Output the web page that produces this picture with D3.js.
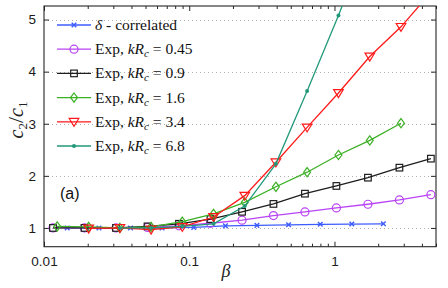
<!DOCTYPE html>
<html><head><meta charset="utf-8">
<script src="https://cdn.jsdelivr.net/npm/d3@7/dist/d3.min.js"></script>
<style>body{margin:0;background:#fff}svg{display:block}</style>
</head><body>
<svg id="c" width="448" height="288"></svg>
<script>
// ---- data ----
const betaDelta = [0.01445, 0.0239, 0.0394, 0.0650, 0.1074, 0.1774, 0.2925, 0.483, 0.798, 1.316, 2.17];
const valDelta  = [1.0, 1.0, 1.0, 1.0, 1.01, 1.04, 1.05, 1.06, 1.07, 1.075, 1.08];

const betaA = [0.01153, 0.0190, 0.0313, 0.0516, 0.0850, 0.140, 0.231, 0.380, 0.626, 1.031, 1.70, 2.80, 4.61];
const val045 = [1.0, 1.0, 1.0, 1.01, 1.04, 1.09, 1.15, 1.237, 1.307, 1.384, 1.455, 1.537, 1.639];
const val09  = [1.0, 1.0, 1.0, 1.03, 1.08, 1.17, 1.31, 1.461, 1.658, 1.806, 1.965, 2.157, 2.33];

const beta16 = [0.01233, 0.0203, 0.0333, 0.0546, 0.0896, 0.147, 0.241, 0.395, 0.648, 1.065, 1.75, 2.87];
const val16  = [1.03, 1.02, 1.0, 1.02, 1.12, 1.27, 1.49, 1.79, 2.07, 2.40, 2.68, 3.01];

const beta34 = [0.0203, 0.0333, 0.0546, 0.0896, 0.147, 0.241, 0.395, 0.648, 1.065, 1.75, 2.87, 4.71];
const val34  = [0.99, 1.0, 0.97, 1.02, 1.21, 1.62, 2.26, 2.93, 3.59, 4.29, 4.86, 5.55];

const beta68 = [0.0333, 0.0546, 0.0896, 0.147, 0.241, 0.395, 0.648, 1.065, 1.75];
const val68  = [1.0, 1.0, 1.03, 1.08, 1.42, 2.23, 3.63, 5.08, 6.6];

const xMajorTicks = [0.01, 0.1, 1];
const xTickLabels = ["0.01", "0.1", "1"];
const yTicks = [1, 2, 3, 4, 5];

const seriesNames = ["δ", "0.45", "0.9", "1.6", "3.4", "6.8"];

// ---- setup ----
const W = 448, H = 288;
const L = 44, R = 436, T = 6, B = 246.7;
const svg = d3.select("#c");
const x = d3.scaleLog().domain([0.01, 5]).range([L, R]);
const y = d3.scaleLinear().domain([0.64, 5.26]).range([B, T]);

svg.append("defs").append("clipPath").attr("id", "clip")
  .append("rect").attr("x", L).attr("y", T).attr("width", R - L).attr("height", B - T);

// grid
svg.append("g").selectAll("line").data(yTicks).join("line")
  .attr("x1", L).attr("x2", R)
  .attr("y1", d => Math.round(y(d)) + 0.5).attr("y2", d => Math.round(y(d)) + 0.5)
  .attr("stroke", "#b0b0b0").attr("stroke-width", 1).attr("stroke-dasharray", "1,3");

// minor ticks
const minor = [];
[0.01, 0.1, 1].forEach(dec => { for (let k = 2; k <= 9; k++) { const v = dec * k; if (v <= 5) minor.push(v); } });

const tickFont = "'Liberation Sans', Arial, sans-serif";
function styleAxis(g) {
  g.select(".domain").remove();
  g.selectAll(".tick line").attr("stroke", "#262626");
  g.selectAll("text").attr("font-family", tickFont).attr("font-size", 13.5).attr("fill", "#1a1a1a");
}
svg.append("g").attr("transform", `translate(0,${B})`)
  .call(d3.axisBottom(x).tickValues(xMajorTicks).tickFormat((d, i) => xTickLabels[i]).tickSize(-5).tickPadding(10))
  .call(styleAxis);
svg.append("g").attr("transform", `translate(0,${B})`)
  .call(d3.axisBottom(x).tickValues(minor).tickFormat("").tickSize(-3)).call(styleAxis);
svg.append("g").attr("transform", `translate(0,${T})`)
  .call(d3.axisTop(x).tickValues(xMajorTicks).tickFormat("").tickSize(-5)).call(styleAxis);
svg.append("g").attr("transform", `translate(0,${T})`)
  .call(d3.axisTop(x).tickValues(minor).tickFormat("").tickSize(-3)).call(styleAxis);
svg.append("g").attr("transform", `translate(${L},0)`)
  .call(d3.axisLeft(y).tickValues(yTicks).tickFormat(d3.format("d")).tickSize(-5).tickPadding(8))
  .call(styleAxis);
svg.append("g").attr("transform", `translate(${R},0)`)
  .call(d3.axisRight(y).tickValues(yTicks).tickFormat("").tickSize(-5)).call(styleAxis);

// frame
svg.append("rect").attr("x", L).attr("y", T).attr("width", R - L).attr("height", B - T)
  .attr("fill", "none").attr("stroke", "#262626").attr("stroke-width", 1.1);

// ---- series ----
const series = [
  {b: betaDelta, v: valDelta, color: "#3d5cff", marker: "x"},
  {b: betaA, v: val045, color: "#b943f5", marker: "circle"},
  {b: betaA, v: val09, color: "#1e1e1e", marker: "square"},
  {b: beta16, v: val16, color: "#3cb024", marker: "diamond"},
  {b: beta34, v: val34, color: "#ff1a1a", marker: "tri"},
  {b: beta68, v: val68, color: "#22997a", marker: "dot"}
];

function drawMarker(g, type, cx, cy, color) {
  if (type === "x") {
    const s = 2.3;
    g.append("path").attr("d", `M${cx-s},${cy-s}L${cx+s},${cy+s}M${cx-s},${cy+s}L${cx+s},${cy-s}`)
      .attr("stroke", color).attr("stroke-width", 1.4).attr("fill", "none");
  } else if (type === "circle") {
    g.append("circle").attr("cx", cx).attr("cy", cy).attr("r", 4)
      .attr("fill", "none").attr("stroke", color).attr("stroke-width", 1.2);
  } else if (type === "square") {
    g.append("rect").attr("x", cx - 3.3).attr("y", cy - 3.3).attr("width", 6.6).attr("height", 6.6)
      .attr("fill", "none").attr("stroke", color).attr("stroke-width", 1.2);
  } else if (type === "diamond") {
    const s = 4.6;
    g.append("path").attr("d", `M${cx},${cy-s}L${cx+s*0.75},${cy}L${cx},${cy+s}L${cx-s*0.75},${cy}Z`)
      .attr("fill", "none").attr("stroke", color).attr("stroke-width", 1.2);
  } else if (type === "tri") {
    const s = 4.8;
    g.append("path").attr("d", `M${cx-s},${cy-s*0.7}L${cx+s},${cy-s*0.7}L${cx},${cy+s*0.95}Z`)
      .attr("fill", "none").attr("stroke", color).attr("stroke-width", 1.2);
  } else if (type === "dot") {
    g.append("circle").attr("cx", cx).attr("cy", cy).attr("r", 2)
      .attr("fill", color).attr("stroke", "none");
  }
}

const plot = svg.append("g").attr("clip-path", "url(#clip)");
const line = d3.line().x(d => x(d[0])).y(d => y(d[1]));
series.forEach(s => {
  const pts = s.b.map((b, i) => [b, s.v[i]]);
  plot.append("path").datum(pts).attr("d", line)
    .attr("fill", "none").attr("stroke", s.color).attr("stroke-width", 1.3);
  const mg = plot.append("g");
  pts.forEach(p => drawMarker(mg, s.marker, x(p[0]), y(p[1]), s.color));
});

// ---- legend ----
const serif = "'Liberation Serif', 'Times New Roman', serif";
const leg = svg.append("g");
series.forEach((s, i) => {
  const cy = 25 + i * 24.2;
  leg.append("line").attr("x1", 57).attr("x2", 91).attr("y1", cy).attr("y2", cy)
    .attr("stroke", s.color).attr("stroke-width", 1.3);
  drawMarker(leg, s.marker, 74, cy, s.color);
  const t = leg.append("text").attr("x", 95).attr("y", cy + 5)
    .attr("font-family", serif).attr("font-size", 15.5).attr("fill", "#111");
  if (i === 0) {
    t.append("tspan").attr("font-style", "italic").text("δ");
    t.append("tspan").text(" - correlated");
  } else {
    t.append("tspan").text("Exp, ");
    t.append("tspan").attr("font-style", "italic").text("kR");
    t.append("tspan").attr("font-style", "italic").attr("font-size", 11).attr("dy", 3).text("c");
    t.append("tspan").attr("dy", -3).text(" = " + seriesNames[i]);
  }
});

// (a) label
svg.append("text").attr("x", 60).attr("y", 199).attr("font-family", tickFont)
  .attr("font-size", 16).attr("fill", "#111").text("(a)");

// x label
svg.append("text").attr("x", 226).attr("y", 277).attr("text-anchor", "middle")
  .attr("font-family", serif).attr("font-style", "italic").attr("font-size", 18).attr("fill", "#222").text("β");

// y label
const yl = svg.append("text").attr("transform", "translate(23,120) rotate(-90)")
  .attr("text-anchor", "middle").attr("font-family", serif).attr("font-style", "italic")
  .attr("font-size", 20).attr("fill", "#222");
yl.append("tspan").text("c");
yl.append("tspan").attr("font-size", 13).attr("dy", 4).attr("font-style", "normal").text("2");
yl.append("tspan").attr("dy", -4).attr("font-size", 22).attr("font-style", "normal").text("/");
yl.append("tspan").text("c");
yl.append("tspan").attr("font-size", 13).attr("dy", 4).attr("font-style", "normal").text("1");
</script>
</body></html>
